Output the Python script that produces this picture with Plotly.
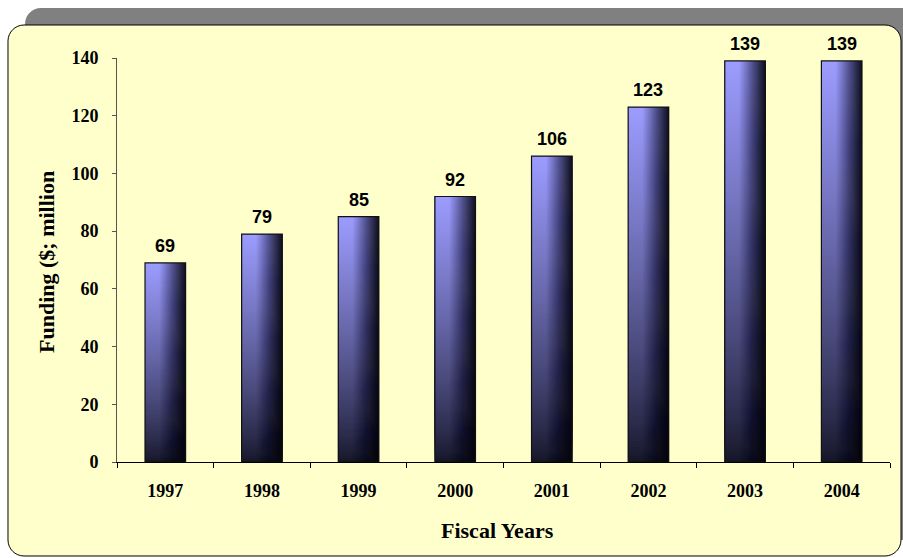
import plotly.graph_objects as go

# ---- data ----
years = ["1997", "1998", "1999", "2000", "2001", "2002", "2003", "2004"]
funding = [69, 79, 85, 92, 106, 123, 139, 139]
y_ticks = [0, 20, 40, 60, 80, 100, 120, 140]
y_title = "Funding ($; million"
x_title = "Fiscal Years"

W, H = 903, 558
L, R, T, B = 117, 13, 58, 96
PW, PH = W - L - R, H - T - B


def px(x):
    return (x - L) / PW


def py(y):
    return 1 - (y - T) / PH


def rounded_path(x0, y0, x1, y1, r):
    k = 0.5523 * r
    segs = [
        ("M", [(x0 + r, y0)]),
        ("L", [(x1 - r, y0)]),
        ("C", [(x1 - r + k, y0), (x1, y0 + r - k), (x1, y0 + r)]),
        ("L", [(x1, y1 - r)]),
        ("C", [(x1, y1 - r + k), (x1 - r + k, y1), (x1 - r, y1)]),
        ("L", [(x0 + r, y1)]),
        ("C", [(x0 + r - k, y1), (x0, y1 - r + k), (x0, y1 - r)]),
        ("L", [(x0, y0 + r)]),
        ("C", [(x0, y0 + r - k), (x0 + r - k, y0), (x0 + r, y0)]),
    ]
    out = ""
    for cmd, pts in segs:
        out += cmd + " " + " ".join(f"{px(a):.5f},{py(b):.5f}" for a, b in pts) + " "
    return out + "Z"


def lerp(a, b, t):
    return tuple(a[i] + (b[i] - a[i]) * t for i in range(3))


TOP = (156, 156, 255)
BOT = (20, 20, 38)
DARK = (8, 8, 16)


def v_color(yf):
    c = lerp(BOT, TOP, yf ** 0.8)
    return "rgb(%d,%d,%d)" % tuple(int(round(v)) for v in c)


def h_factor(xf):
    if xf <= 0.35:
        return 1.0
    return max(0.06, 1 - 0.92 * ((xf - 0.35) / 0.65) ** 1.05)


fig = go.Figure()

BW = 0.42
N = 120  # vertical gradient steps
K = 42   # horizontal shading steps

# vertical gradient: each step spans from its start up to the bar top,
# later steps cover the upper part -> seamless
gx, gy, gb, gc = [], [], [], []
for j in range(N):
    yf = (j + 0.5) / N
    col = v_color(yf)
    for yr, v in zip(years, funding):
        gx.append(yr)
        gb.append(v * j / N)
        gy.append(v * (1 - j / N))
        gc.append(col)
fig.add_trace(go.Bar(
    x=gx, y=gy, base=gb, width=BW,
    marker=dict(color=gc, line=dict(width=0)),
    hoverinfo="skip", showlegend=False,
))

# horizontal shading: dark overlay strips from each step to the right edge,
# alphas chosen so that the composite darkening follows h_factor
sx, sy, sb, so, sw, sc = [], [], [], [], [], []
prev = 1.0
for k in range(K):
    xf = (k + 0.5) / K
    h = h_factor(xf)
    a = 1 - h / prev
    prev = h
    if a <= 1e-4:
        continue
    for yr, v in zip(years, funding):
        sx.append(yr)
        sb.append(0)
        sy.append(v)
        so.append(-BW / 2 + k * BW / K)
        sw.append(BW * (1 - k / K))
        sc.append("rgba(%d,%d,%d,%.4f)" % (DARK + (a,)))
fig.add_trace(go.Bar(
    x=sx, y=sy, base=sb, offset=so, width=sw,
    marker=dict(color=sc, line=dict(width=0)),
    hoverinfo="skip", showlegend=False,
))

# outline
fig.add_trace(go.Bar(
    x=years, y=funding, width=BW,
    marker=dict(color="rgba(0,0,0,0)", line=dict(color="#111111", width=1.2)),
    showlegend=False, hoverinfo="x+y",
))

annotations = []
for i, v in enumerate(funding):
    annotations.append(dict(
        x=i, y=v, xref="x", yref="y", text=str(v), showarrow=False,
        yanchor="bottom", yshift=5,
        font=dict(family="Arial, Liberation Sans", size=18, color="black", weight="bold"),
    ))
annotations.append(dict(
    x=px(46), y=py(262), xref="paper", yref="paper", text=y_title, showarrow=False,
    textangle=-90, xanchor="center", yanchor="middle",
    font=dict(family="Times New Roman, Liberation Serif", size=22, color="black", weight="bold"),
))
annotations.append(dict(
    x=px(497), y=py(530), xref="paper", yref="paper", text=x_title, showarrow=False,
    xanchor="center", yanchor="middle",
    font=dict(family="Times New Roman, Liberation Serif", size=22, color="black", weight="bold"),
))

shapes = [
    dict(type="path", path=rounded_path(25, 8, 920, 540, 16), xref="paper", yref="paper",
         fillcolor="#808080", line=dict(width=0), layer="below"),
    dict(type="path", path=rounded_path(8, 25, 901, 556, 16), xref="paper", yref="paper",
         fillcolor="#FFFFCC", line=dict(color="black", width=1), layer="below"),
]

tickfont = dict(family="Times New Roman, Liberation Serif", size=18, color="black", weight="bold")

fig.update_layout(
    width=W, height=H,
    margin=dict(l=L, r=R, t=T, b=B, pad=0),
    paper_bgcolor="white",
    plot_bgcolor="rgba(0,0,0,0)",
    barmode="overlay",
    showlegend=False,
    annotations=annotations,
    shapes=shapes,
    xaxis=dict(
        type="category", range=[-0.5, len(years) - 0.5],
        tickson="boundaries", ticks="outside", ticklen=5,
        tickcolor="black", showline=True, linecolor="black", linewidth=1,
        showgrid=False, tickfont=tickfont, ticklabelstandoff=12,
    ),
    yaxis=dict(
        range=[0, 140], tickvals=y_ticks, ticks="outside", ticklen=4,
        tickcolor="#555555", showline=True, linecolor="#555555", linewidth=1,
        showgrid=False, zeroline=False, tickfont=tickfont, ticklabelstandoff=10,
    ),
)

fig.write_html("out.html")
